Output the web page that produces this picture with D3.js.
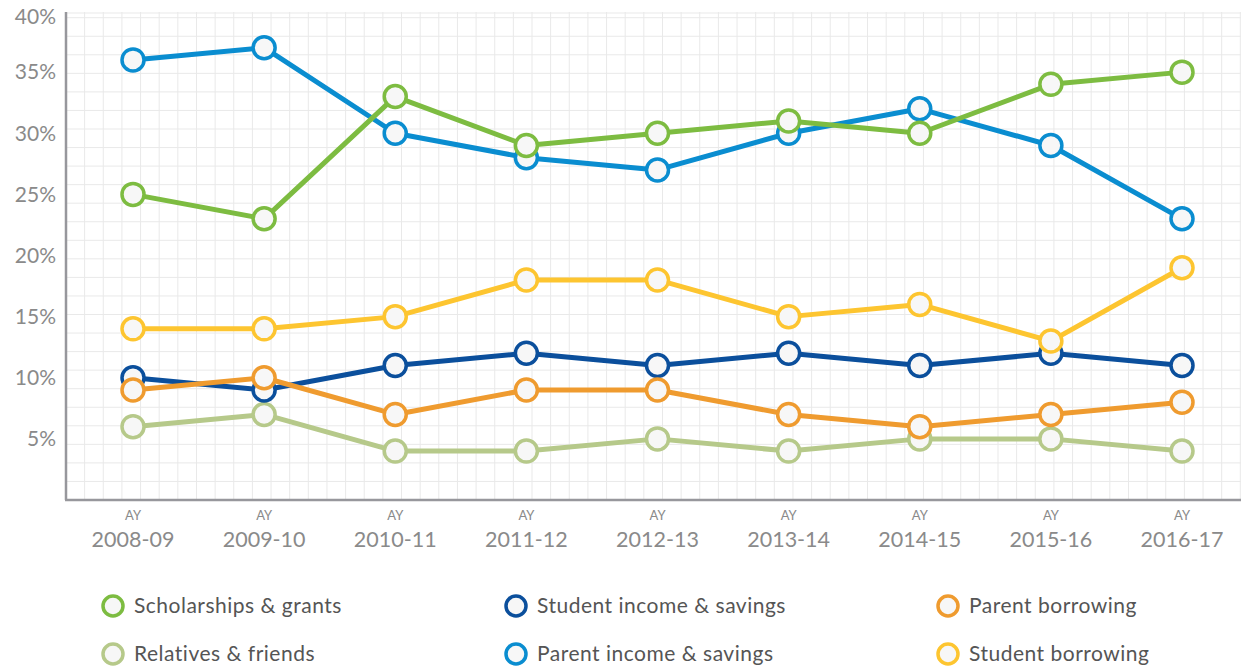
<!DOCTYPE html>
<html>
<head>
<meta charset="utf-8">
<script src="https://cdn.jsdelivr.net/npm/d3@7"></script>
<style>
  body { margin: 0; background: #fff; }
  svg { display: block; font-family: Lato, "Open Sans", sans-serif; }
</style>
</head>
<body>
<script>
// academic years
const years = ['2008-09', '2009-10', '2010-11', '2011-12', '2012-13', '2013-14', '2014-15', '2015-16', '2016-17'];
const yTicks = [5, 10, 15, 20, 25, 30, 35, 40];

// percent of college costs paid, by source
const scholarships = [25, 23, 33, 29, 30, 31, 30, 34, 35];
const relatives = [6, 7, 4, 4, 5, 4, 5, 5, 4];
const studentIncome = [10, 9, 11, 12, 11, 12, 11, 12, 11];
const parentBorrowing = [9, 10, 7, 9, 9, 7, 6, 7, 8];
const studentBorrowing = [14, 14, 15, 18, 18, 15, 16, 13, 19];
const parentIncome = [36, 37, 30, 28, 27, 30, 32, 29, 23];

// draw order (bottom -> top)
const series = [
  { name: 'Relatives & friends', values: relatives, color: '#b6c98a' },
  { name: 'Student income & savings', values: studentIncome, color: '#0b4f9c' },
  { name: 'Parent borrowing', values: parentBorrowing, color: '#ef9b2f' },
  { name: 'Student borrowing', values: studentBorrowing, color: '#fdc530' },
  { name: 'Parent income & savings', values: parentIncome, color: '#0a8dd0' },
  { name: 'Scholarships & grants', values: scholarships, color: '#7dbc41' }
];
const byName = {};
series.forEach(s => byName[s.name] = s);

// legend layout: columns left to right, rows top to bottom
const legendOrder = [
  ['Scholarships & grants', 'Relatives & friends'],
  ['Student income & savings', 'Parent income & savings'],
  ['Parent borrowing', 'Student borrowing']
];

const w = 1241, h = 667;
const padLeft = 66, padBottom = 500, padTop = 12;

const svg = d3.select('body').append('svg')
  .attr('width', w)
  .attr('height', h);

const x = d3.scalePoint().domain(years).range([133, 1182]);
const y = d3.scaleLinear().domain([0, 40]).range([padBottom, 11]);

// background grid
const grid = svg.append('g').attr('stroke', '#e9e9e9').attr('stroke-width', 1);
const step = 18.64;
for (let gx = padLeft + step; gx < w; gx += step) {
  grid.append('line').attr('x1', gx).attr('x2', gx).attr('y1', padTop).attr('y2', padBottom);
}
for (let gy = padBottom - 18.55; gy > padTop; gy -= 18.55) {
  grid.append('line').attr('x1', padLeft).attr('x2', w).attr('y1', gy).attr('y2', gy);
}
grid.append('line').attr('x1', padLeft).attr('x2', w).attr('y1', padTop + 1).attr('y2', padTop + 1);

// axes
svg.append('line').attr('x1', padLeft).attr('x2', padLeft).attr('y1', padTop).attr('y2', padBottom)
  .attr('stroke', '#97979c').attr('stroke-width', 2.5);
svg.append('line').attr('x1', padLeft - 1).attr('x2', w).attr('y1', padBottom).attr('y2', padBottom)
  .attr('stroke', '#97979c').attr('stroke-width', 2.5);

// y labels
svg.append('g').selectAll('text')
  .data(yTicks)
  .enter().append('text')
  .attr('x', 56)
  .attr('y', d => Math.max(y(d), 17))
  .attr('dy', '0.35em')
  .attr('text-anchor', 'end')
  .attr('font-size', 21)
  .attr('fill', '#8a8a8a')
  .text(d => d + '%');

// x labels
const xl = svg.append('g').selectAll('g')
  .data(years)
  .enter().append('g')
  .attr('transform', d => 'translate(' + x(d) + ',0)');
xl.append('text')
  .attr('y', 520)
  .attr('text-anchor', 'middle')
  .attr('font-size', 13)
  .attr('fill', '#8a8a8a')
  .text('AY');
xl.append('text')
  .attr('y', 547)
  .attr('text-anchor', 'middle')
  .attr('font-size', 21.5)
  .attr('fill', '#8a8a8a')
  .text(d => d);

// lines and markers
const line = d3.line()
  .x((d, i) => x(years[i]))
  .y(d => y(d));

const sg = svg.selectAll('.series')
  .data(series)
  .enter().append('g')
  .attr('class', 'series');

sg.append('path')
  .attr('d', d => line(d.values))
  .attr('fill', 'none')
  .attr('stroke', d => d.color)
  .attr('stroke-width', 5)
  .attr('stroke-linejoin', 'round');

sg.each(function(s) {
  d3.select(this).selectAll('circle')
    .data(s.values)
    .enter().append('circle')
    .attr('cx', (d, i) => x(years[i]))
    .attr('cy', d => y(d))
    .attr('r', 11)
    .attr('fill', '#f7f7f7')
    .attr('stroke', s.color)
    .attr('stroke-width', 3.5);
});

// legend
const colX = [113, 516, 948];
const rowY = [606, 654];
legendOrder.forEach((col, ci) => {
  col.forEach((name, ri) => {
    const g = svg.append('g').attr('transform', 'translate(' + colX[ci] + ',' + rowY[ri] + ')');
    g.append('circle')
      .attr('r', 10)
      .attr('fill', '#f7f7f7')
      .attr('stroke', byName[name].color)
      .attr('stroke-width', 3.5);
    g.append('text')
      .attr('x', 21)
      .attr('dy', '0.35em')
      .attr('font-size', 21)
      .attr('letter-spacing', 0.5)
      .attr('fill', '#555')
      .text(name);
  });
});
</script>
</body>
</html>
